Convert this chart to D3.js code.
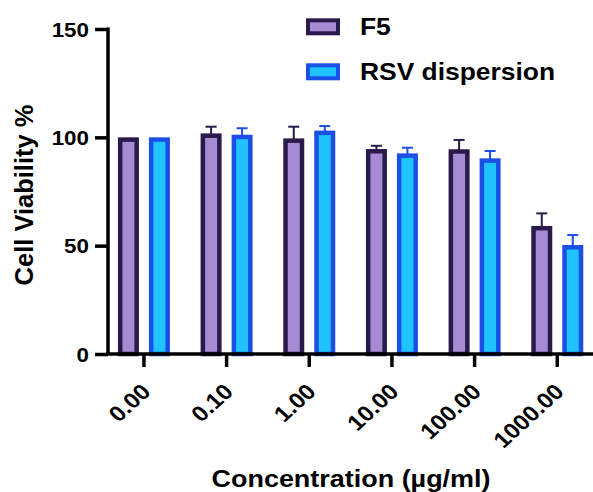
<!DOCTYPE html>
<html>
<head>
<meta charset="utf-8">
<script src="https://cdn.jsdelivr.net/npm/d3@7"></script>
<style>
  html, body { margin: 0; padding: 0; background: #fff; }
  svg text { font-family: "Liberation Sans", Arial, Helvetica, sans-serif; font-weight: bold; fill: #000; }
</style>
</head>
<body>
<svg id="chart" width="593" height="492"></svg>
<script>
const categories = ["0.00", "0.10", "1.00", "10.00", "100.00", "1000.00"];
const seriesNames = ["F5", "RSV dispersion"];
const f5Values = [100, 101.8, 99.5, 94.6, 94.5, 59.1];
const f5Errors = [0, 3.1, 5.4, 1.5, 4.3, 5.8];
const rsvValues = [100, 101.2, 103.1, 92.6, 90.3, 50.3];
const rsvErrors = [0, 3.0, 2.1, 2.6, 3.4, 4.6];
const yTicks = [0, 50, 100, 150];
const yTitle = "Cell Viability %";
const xTitle = "Concentration (µg/ml)";

const fills = ["#a68bd3", "#1ec3ff"];
const strokes = ["#2a1a4c", "#1c4fe6"];

const svg = d3.select("#chart");
const yTop = 29, yBottom = 354, xLeft = 108, xRight = 593;
const stretch = 1.1;

const y = d3.scaleLinear().domain([0, 150]).range([yBottom, yTop]);
const x = d3.scaleBand().domain(categories).range([102.6, 598.6]).padding(0);
const xs = d3.scaleBand().domain(seriesNames).range([-31, 31]).padding(0);

const data = categories.map((c, i) => ({
  cat: c,
  vals: [
    { s: seriesNames[0], si: 0, v: f5Values[i], e: f5Errors[i] },
    { s: seriesNames[1], si: 1, v: rsvValues[i], e: rsvErrors[i] }
  ]
}));

const barW = 21, sw = 4.5;

const groups = svg.append("g").selectAll("g").data(data).join("g")
  .attr("transform", d => `translate(${x(d.cat) + x.bandwidth() / 2},0)`);

// error bars
groups.selectAll("g.err").data(d => d.vals.filter(v => v.e > 0)).join("g").attr("class", "err")
  .each(function (d) {
    const g = d3.select(this);
    const cx = xs(d.s) + xs.bandwidth() / 2;
    g.append("line").attr("x1", cx).attr("x2", cx)
      .attr("y1", y(d.v) + 2).attr("y2", y(d.v + d.e))
      .attr("stroke", strokes[d.si]).attr("stroke-width", 2);
    g.append("line").attr("x1", cx - 5.5).attr("x2", cx + 5.5)
      .attr("y1", y(d.v + d.e)).attr("y2", y(d.v + d.e))
      .attr("stroke", strokes[d.si]).attr("stroke-width", 2);
  });

// bars
groups.selectAll("rect").data(d => d.vals).join("rect")
  .attr("x", d => xs(d.s) + xs.bandwidth() / 2 - barW / 2 + sw / 2)
  .attr("width", barW - sw)
  .attr("y", d => y(d.v) + sw / 2)
  .attr("height", d => y(0) - y(d.v) - sw / 2)
  .attr("fill", d => fills[d.si])
  .attr("stroke", d => strokes[d.si])
  .attr("stroke-width", sw);

// y axis
const yAxis = svg.append("g").attr("transform", `translate(${xLeft},0)`)
  .call(d3.axisLeft(y).tickValues(yTicks).tickSize(13).tickPadding(5).tickSizeOuter(0));
yAxis.select(".domain").attr("stroke", "#000").attr("stroke-width", 3.5)
  .attr("d", `M0,${yTop - 1.5}V${yBottom}`);
yAxis.selectAll(".tick line").attr("stroke", "#000").attr("stroke-width", 3.5);
yAxis.selectAll(".tick text").each(function () {
  const t = d3.select(this);
  t.attr("x", null).attr("dy", "0.36em")
   .attr("transform", `translate(-19,0) scale(1.12,1)`)
   .style("font-size", "20px").attr("fill", "#000");
});

// x axis
const xAxis = svg.append("g").attr("transform", `translate(0,${yBottom})`)
  .call(d3.axisBottom(x).tickSize(13).tickSizeOuter(0));
xAxis.select(".domain").attr("stroke", "#000").attr("stroke-width", 3.5)
  .attr("d", `M${xLeft - 1.75},0H${xRight}`);
xAxis.selectAll(".tick line").attr("stroke", "#000").attr("stroke-width", 3.5);
xAxis.selectAll(".tick text")
  .attr("y", null).attr("dy", null)
  .attr("text-anchor", "end")
  .attr("transform", `translate(8,39) scale(${stretch},1) rotate(-45)`)
  .style("font-size", "22px").attr("fill", "#000");

// axis titles
svg.append("text").text(xTitle)
  .attr("text-anchor", "middle")
  .attr("transform", `translate(351,487) scale(${stretch},1)`)
  .style("font-size", "24.5px");

svg.append("text").text(yTitle)
  .attr("text-anchor", "middle")
  .attr("transform", `translate(33,195) rotate(-90)`)
  .style("font-size", "25.5px");

// legend
const legend = svg.append("g");
const legY = [18.3, 63.3];
seriesNames.forEach((name, i) => {
  legend.append("rect")
    .attr("x", 306 + 2).attr("y", legY[i] + 2)
    .attr("width", 34 - 4).attr("height", 17 - 4)
    .attr("fill", fills[i]).attr("stroke", strokes[i]).attr("stroke-width", 4);
  legend.append("text").text(name)
    .attr("transform", `translate(360,${legY[i] + 17}) scale(${stretch},1)`)
    .style("font-size", "24px");
});
</script>
</body>
</html>
